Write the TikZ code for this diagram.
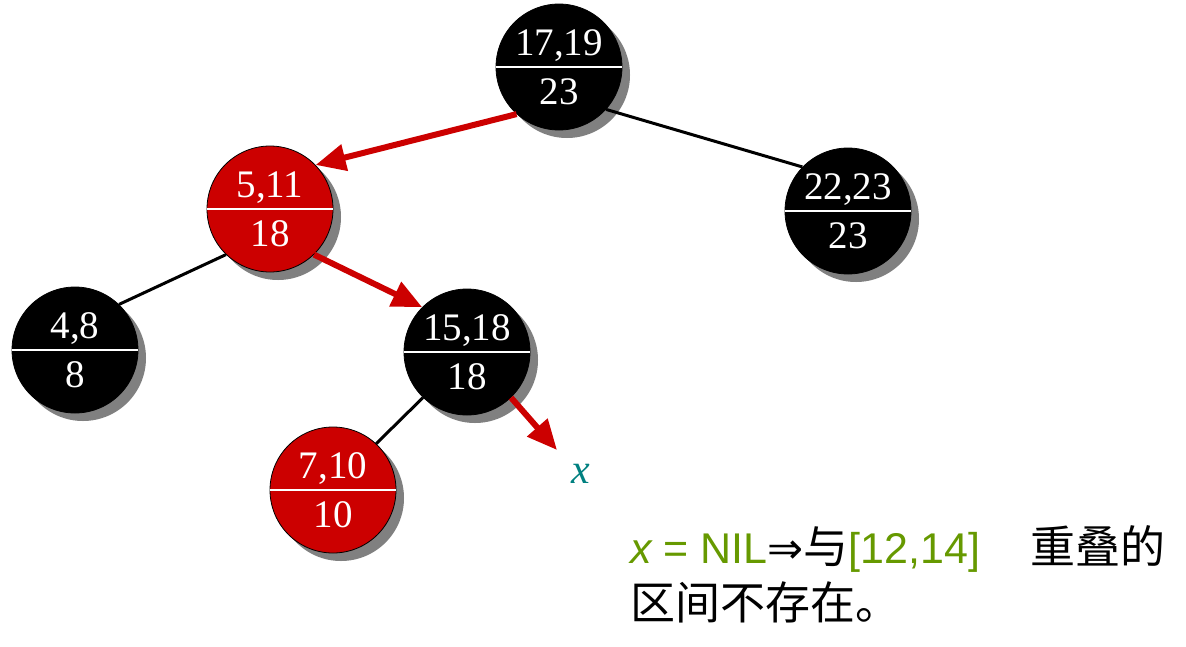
\documentclass[tikz,border=0pt]{standalone}
\usepackage{fontspec}
\setmainfont{Liberation Serif}
\newfontfamily\arialf{Liberation Sans}
\newfontfamily\dejavu{DejaVu Sans}
\newfontfamily\cjk{Noto Sans CJK SC}
\usetikzlibrary{arrows.meta,shadows}
\definecolor{nodered}{RGB}{204,0,0}
\definecolor{txtgreen}{RGB}{102,153,0}
\definecolor{xteal}{RGB}{0,128,128}
\tikzset{
  tnode/.style={circle, minimum size=126pt, inner sep=0pt, draw=black, line width=0.8pt,
    drop shadow={shadow xshift=8pt, shadow yshift=-8pt, opacity=1, fill=gray}},
  blk/.style={tnode, fill=black},
  rd/.style={tnode, fill=nodered},
  numtxt/.style={text=white, font=\fontsize{39}{39}\selectfont, inner sep=0pt},
  bline/.style={line width=3pt, black},
  rarrow/.style={line width=6pt, nodered, -{Triangle[length=30pt,width=26pt]}},
}
\newcommand{\tn}[6]{%
  \node[#1] (#2) at (#3) {};
  \draw[white, line width=2.5pt] (#2.west) -- (#2.east);
  \node[numtxt] at ([yshift=21pt]#2.center) {#4};
  \node[numtxt] at ([yshift=-25pt]#2.center) {#5};
}
\begin{document}
\begin{tikzpicture}[x=1pt,y=-1pt]
\useasboundingbox (0,0) rectangle (1186,646);
\tn{blk}{r}{559,67}{17,19}{23}{}
\tn{rd}{a}{270,209}{5,11}{18}{}
\tn{blk}{b}{848,211}{22,23}{23}{}
\tn{blk}{c}{75,350}{4,8}{8}{}
\tn{blk}{d}{467,352}{15,18}{18}{}
\tn{rd}{e}{333,490}{7,10}{10}{}
\node[text=xteal, font=\fontsize{42}{42}\selectfont\itshape, inner sep=0pt] (xl) at (581,474) {x};
\coordinate (xe) at (557,450);
\draw[bline] (r.318) -- (b.136);
\draw[bline] (a.226) -- (c.46);
\draw[bline] (d.226) -- (e.47);
\draw[rarrow] (r.228) -- (a.44);
\draw[rarrow] (a.314) -- (d.135);
\draw[rarrow] (d.314) -- (xe);
\node[anchor=base west, inner sep=0pt, font=\fontsize{43}{43}\selectfont] (t1) at (630,563)
  {\arialf\textcolor{txtgreen}{\itshape x\upshape{} = NIL}{\dejavu ⇒}{\cjk\fontsize{45}{45}\selectfont 与}\textcolor{txtgreen}{[12,14]}\hspace{50pt}{\cjk\fontsize{45}{45}\selectfont 重叠的}};
\node[anchor=base west, inner sep=0pt, font=\fontsize{45}{45}\selectfont] (t2) at (630,619)
  {\cjk 区间不存在。};
\end{tikzpicture}
\end{document}
